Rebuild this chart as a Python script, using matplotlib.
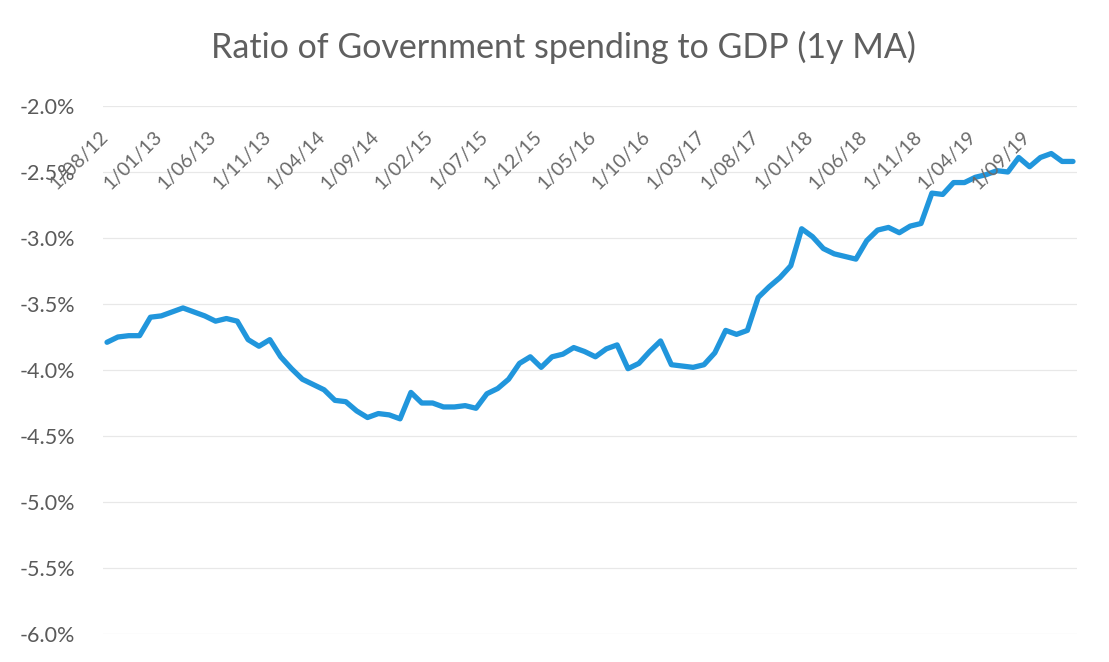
import matplotlib
matplotlib.use("Agg")
import matplotlib.pyplot as plt
import matplotlib.transforms as mtransforms
from matplotlib.ticker import FuncFormatter, MultipleLocator
import pandas as pd

# Monthly observations, Aug 2012 - Jan 2020
months = pd.date_range("2012-08-01", periods=90, freq="MS")

# Government spending / GDP ratio, 1-year moving average (%)
ratio = [
    -3.79, -3.75, -3.74, -3.74, -3.60, -3.59, -3.56, -3.53, -3.56, -3.59,
    -3.63, -3.61, -3.63, -3.77, -3.82, -3.77, -3.90, -3.99, -4.07, -4.11,
    -4.15, -4.23, -4.24, -4.31, -4.36, -4.33, -4.34, -4.37, -4.17, -4.25,
    -4.25, -4.28, -4.28, -4.27, -4.29, -4.18, -4.14, -4.07, -3.95, -3.90,
    -3.98, -3.90, -3.88, -3.83, -3.86, -3.90, -3.84, -3.81, -3.99, -3.95,
    -3.86, -3.78, -3.96, -3.97, -3.98, -3.96, -3.87, -3.70, -3.73, -3.70,
    -3.45, -3.37, -3.30, -3.21, -2.93, -2.99, -3.08, -3.12, -3.14, -3.16,
    -3.02, -2.94, -2.92, -2.96, -2.91, -2.89, -2.66, -2.67, -2.58, -2.58,
    -2.54, -2.52, -2.49, -2.50, -2.39, -2.46, -2.39, -2.36, -2.42, -2.42,
]

title = "Ratio of Government spending to GDP (1y MA)"
tick_step = 5
tick_idx = list(range(0, len(months), tick_step))
tick_labels = [f"{months[i].day}/{months[i]:%m}/{months[i]:%y}" for i in tick_idx]

plt.rcParams["font.family"] = ["Lato", "DejaVu Sans"]

W, H, DPI = 1109, 662, 100
fig = plt.figure(figsize=(W / DPI, H / DPI), dpi=DPI)
fig.patch.set_facecolor("white")

ax = fig.add_axes([103 / W, 1 - 634 / H, 974 / W, 528 / H])
x = list(range(len(ratio)))
ax.plot(x, ratio, color="#2196dc", lw=3.8, solid_joinstyle="round",
        solid_capstyle="round", zorder=3)

ax.set_xlim(-0.37, len(ratio) - 1 + 0.37)
ax.set_ylim(-6.0, -2.0)
ax.yaxis.set_major_locator(MultipleLocator(0.5))
ax.yaxis.set_major_formatter(FuncFormatter(lambda v, p: f"{v:.1f}%"))
ax.grid(axis="y", color="#e8e8e8", lw=0.9)
ax.set_axisbelow(True)
for s in ax.spines.values():
    s.set_visible(False)
ax.tick_params(axis="y", length=0, pad=20, labelsize=15.5, labelcolor="#5a5a5a")
ax.set_xticks([])

# Category labels hang just under the top of the value range
trans = mtransforms.offset_copy(ax.get_xaxis_transform(), fig=fig,
                                x=4, y=-22, units="dots")
for i, lab in zip(tick_idx, tick_labels):
    ax.text(i, 1.0, lab, transform=trans, rotation=45, ha="right", va="top",
            fontsize=14, color="#6a6a6a", zorder=4)

fig.text(0.508, 1 - 47 / H, title, ha="center", va="center",
         fontsize=24.5, color="#5f5f5f")

fig.savefig("out.png", dpi=DPI)
